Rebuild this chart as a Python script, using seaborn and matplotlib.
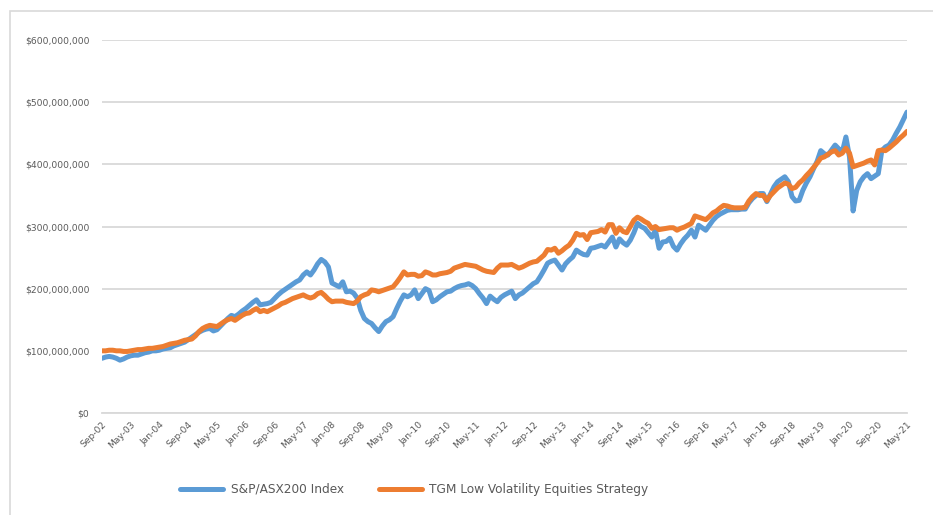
import matplotlib
matplotlib.use("Agg")
import matplotlib.pyplot as plt
import numpy as np
import pandas as pd
import seaborn as sns
from matplotlib.ticker import FuncFormatter
from matplotlib.patches import Rectangle

# month labels shown on the x axis, one every 8 months from Sep-02
tick_labels = ["Sep-02", "May-03", "Jan-04", "Sep-04", "May-05", "Jan-06", "Sep-06",
               "May-07", "Jan-08", "Sep-08", "May-09", "Jan-10", "Sep-10", "May-11",
               "Jan-12", "Sep-12", "May-13", "Jan-14", "Sep-14", "May-15", "Jan-16",
               "Sep-16", "May-17", "Jan-18", "Sep-18", "May-19", "Jan-20", "Sep-20",
               "May-21"]

# monthly portfolio value, $ millions (Sep-02 .. May-21)
asx200 = [
    88, 90, 91, 90, 88, 85, 87, 90, 92, 93, 93, 95,
    97, 98, 100, 100, 101, 103, 104, 105, 108, 110, 112, 114,
    118, 122, 126, 130, 133, 135, 136, 132, 134, 140, 146, 152,
    157, 155, 159, 164, 168, 173, 178, 182, 174, 175, 176, 178,
    184, 190, 195, 199, 203, 207, 211, 214, 222, 227, 222, 230,
    240, 247, 243, 235, 209, 206, 203, 211, 195, 196, 193, 185,
    165, 152, 147, 144, 137, 131, 140, 147, 150, 155, 168, 180,
    190, 187, 190, 198, 184, 192, 200, 197, 179, 182, 187, 191,
    195, 196, 200, 203, 205, 206, 208, 205, 200, 192, 185, 176,
    188, 183, 179, 186, 190, 193, 196, 184, 190, 193, 198, 203,
    208, 211, 220, 230, 241, 244, 246, 238, 230, 240, 246, 251,
    262, 258, 255, 254, 265, 266, 268, 270, 267, 275, 283, 267,
    280, 274, 270, 278, 290, 305, 300, 297, 290, 283, 294, 265,
    275, 276, 281, 268, 262, 272, 280, 286, 294, 283, 302, 298,
    294, 302, 310, 316, 320, 323, 326, 327, 327, 327, 328, 328,
    338, 345, 350, 353, 353, 340, 352, 364, 372, 376, 380, 372,
    348, 341, 342, 358, 370, 380, 393, 405, 422, 417, 415, 423,
    431, 425, 420, 444, 412, 325, 358, 372, 380, 385, 377, 381,
    385, 422, 428, 431, 439, 450, 460, 472, 484,
]

tgm_low_vol = [
    100, 100, 101, 101, 100, 100, 99, 99, 100, 101, 102, 102,
    103, 104, 104, 105, 106, 107, 109, 111, 112, 113, 115, 117,
    118, 119, 124, 131, 136, 139, 141, 140, 139, 143, 147, 150,
    152, 149, 153, 157, 160, 161, 165, 168, 163, 165, 163, 166,
    169, 172, 176, 178, 181, 184, 186, 188, 190, 187, 185, 187,
    192, 194, 189, 183, 179, 180, 180, 180, 178, 177, 176, 180,
    187, 190, 192, 198, 197, 195, 197, 199, 201, 203, 210, 218,
    227, 222, 223, 223, 220, 221, 227, 225, 222, 222, 224, 225,
    226, 228, 233, 235, 237, 239, 238, 237, 236, 233, 230, 228,
    227, 226, 233, 238, 238, 238, 239, 236, 233, 235, 238, 241,
    243, 244, 249, 254, 263, 262, 265, 257, 261, 266, 270, 278,
    289, 286, 287, 279, 290, 291, 292, 295, 291, 303, 303, 289,
    298, 292, 290, 300, 310, 315, 312, 308, 305, 297, 300, 295,
    296, 297, 298, 298, 294, 297, 299, 302, 305, 317, 315, 313,
    311, 316, 322, 325, 330, 334, 333, 331, 330, 330, 330, 331,
    341, 348, 353, 350, 350, 342, 350, 356, 362, 366, 370, 368,
    361, 363, 370, 375, 382, 388, 395, 402, 410, 412, 416, 420,
    422, 415, 418, 426, 418, 396, 398, 400, 402, 405, 407, 399,
    422, 423, 422, 426, 431, 436, 442, 447, 453,
]

series_names = ["S&P/ASX200 Index", "TGM Low Volatility Equities Strategy"]
colors = ["#5B9BD5", "#ED7D31"]

months = np.arange(len(asx200))
df = pd.concat([
    pd.DataFrame({"month": months, "value": np.array(asx200) * 1e6, "series": series_names[0]}),
    pd.DataFrame({"month": months, "value": np.array(tgm_low_vol) * 1e6, "series": series_names[1]}),
])

sns.set_theme(style="white")
plt.rcParams["font.family"] = ["DejaVu Sans"]

fig = plt.figure(figsize=(9.33, 5.15), dpi=100)
ax = fig.add_axes([102 / 933, 1 - 413 / 515, 805 / 933, 373 / 515])

sns.lineplot(data=df, x="month", y="value", hue="series", palette=colors,
             linewidth=3.6, estimator=None, ax=ax, legend=False, zorder=3)

ax.set_xlim(0, len(asx200) - 1)
ax.set_ylim(0, 600e6)
ax.set_yticks(np.arange(0, 600e6 + 1, 100e6))
ax.yaxis.set_major_formatter(FuncFormatter(lambda v, p: f"${v:,.0f}"))
ax.set_xticks(np.arange(0, len(asx200), 8))
ax.set_xticklabels(tick_labels, rotation=45, ha="right", rotation_mode="anchor")
ax.tick_params(axis="y", labelsize=6.6, labelcolor="#595959", length=0, pad=9)
ax.tick_params(axis="x", labelsize=6.6, labelcolor="#595959", length=0, pad=5)
ax.set_xlabel("")
ax.set_ylabel("")

ax.grid(axis="y", color="#d9d9d9", linewidth=1.3, zorder=0)
ax.grid(axis="x", visible=False)
for s in ["left", "right", "top"]:
    ax.spines[s].set_visible(False)
ax.spines["bottom"].set_color("#d9d9d9")
ax.spines["bottom"].set_linewidth(1.3)

# legend under the chart
handles = [plt.Line2D([], [], color=c, linewidth=3.6, solid_capstyle="round") for c in colors]
fig.legend(handles, series_names, loc="center", bbox_to_anchor=(0.444, 0.05),
           ncol=2, frameon=False, fontsize=8.7, labelcolor="#595959",
           handlelength=3.6, handletextpad=0.6, columnspacing=2.9)

# chart area border
fig.patches.append(Rectangle((10 / 933, -0.1), 1.2, 1.1 - 11 / 515, transform=fig.transFigure,
                             fill=False, edgecolor="#d9d9d9", linewidth=1.2))

fig.savefig("out.png", dpi=100)
